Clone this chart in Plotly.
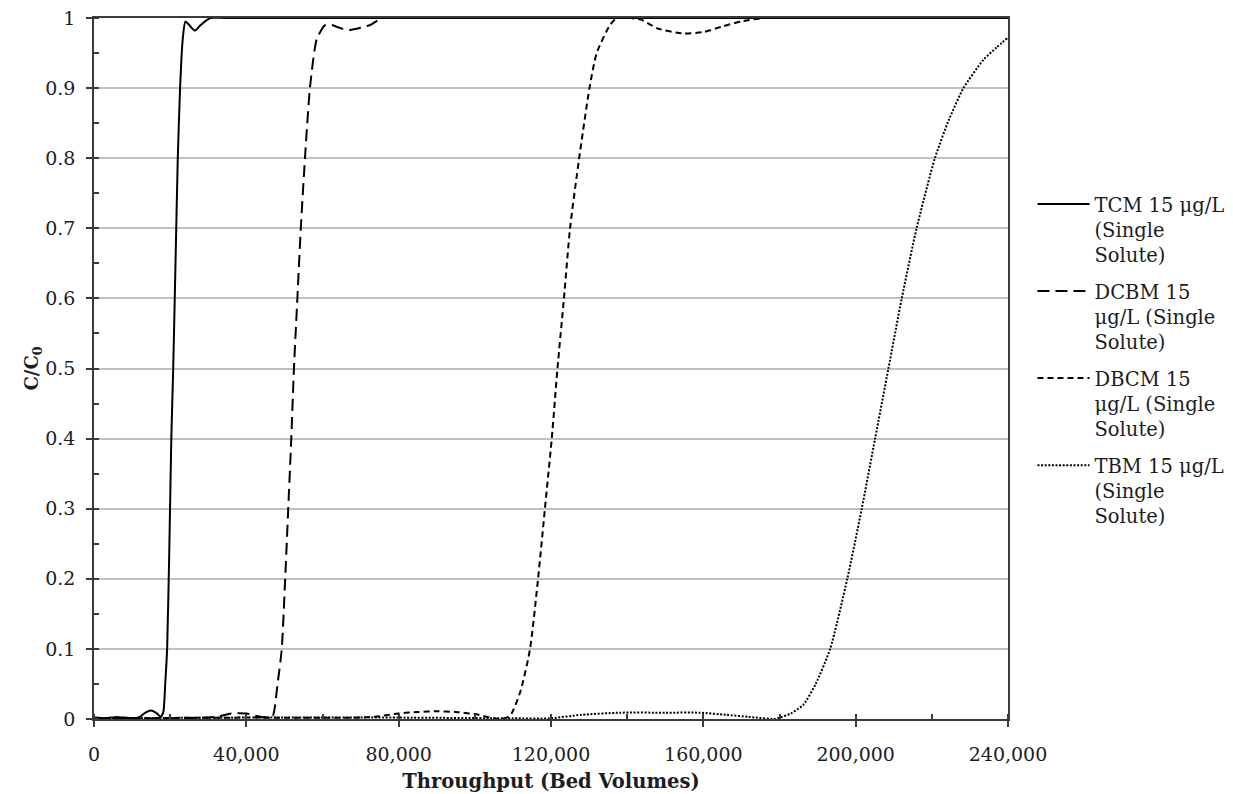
import plotly.graph_objects as go

# ---- data ----
tcm_x = [0, 3000, 6000, 8000, 10000, 12000, 13500, 15000, 16500, 17500, 18200, 18700, 19200, 19800,
         20300, 20800, 21400, 22000, 22600, 23300, 24000, 25000, 26500, 28000, 30500, 35000, 240000]
tcm_y = [0.002, 0.001, 0.003, 0.002, 0.001, 0.003, 0.009, 0.012, 0.008, 0.003, 0.01, 0.05, 0.1, 0.25,
         0.4, 0.5, 0.65, 0.8, 0.9, 0.97, 0.995, 0.99, 0.982, 0.99, 1.0, 1.0, 1.0]

dcbm_x = [0, 20000, 30000, 33000, 36000, 40000, 43000, 46000, 47000, 48200, 49300, 50200, 51000, 51800,
          52500, 53400, 54300, 55400, 56700, 58500, 60700, 62400, 65000, 67200, 70000, 72500, 76000, 240000]
dcbm_y = [0.0, 0.001, 0.002, 0.004, 0.008, 0.008, 0.004, 0.002, 0.005, 0.05, 0.1, 0.2, 0.3, 0.4,
          0.5, 0.6, 0.7, 0.8, 0.9, 0.97, 0.99, 0.99, 0.985, 0.983, 0.986, 0.99, 1.0, 1.0]

dbcm_x = [0, 40000, 70000, 75000, 80000, 85000, 90000, 95000, 100000, 104000, 107000, 109300, 112000,
          114500, 116600, 118400, 120200, 121700, 123400, 125000, 127400, 130100, 132000, 135500, 137300,
          143400, 148000, 154700, 160000, 165000, 170000, 176000, 240000]
dbcm_y = [0.001, 0.002, 0.002, 0.004, 0.008, 0.01, 0.011, 0.01, 0.007, 0.002, 0.0, 0.005, 0.04,
          0.1, 0.2, 0.3, 0.4, 0.5, 0.6, 0.7, 0.8, 0.9, 0.95, 0.99, 1.0,
          0.998, 0.985, 0.978, 0.98, 0.988, 0.995, 1.0, 1.0]

tbm_x = [0, 40000, 80000, 110000, 119700, 128000, 138000, 150000, 159000, 166000, 172000, 179000,
         180100, 183000, 186200, 189500, 193300, 197800, 201600, 205100, 208600, 212100, 216000,
         220800, 224500, 228300, 233500, 237000, 240000]
tbm_y = [0.001, 0.002, 0.002, 0.001, 0.001, 0.006, 0.009, 0.009, 0.009, 0.006, 0.003, 0.0,
         0.002, 0.008, 0.02, 0.05, 0.1, 0.2, 0.3, 0.4, 0.5, 0.6, 0.7,
         0.8, 0.855, 0.9, 0.94, 0.958, 0.972]

names = ["TCM 15 μg/L<br>(Single<br>Solute)",
         "DCBM 15<br>μg/L (Single<br>Solute)",
         "DBCM 15<br>μg/L (Single<br>Solute)",
         "TBM 15 μg/L<br>(Single<br>Solute)"]

x_ticks = [0, 40000, 80000, 120000, 160000, 200000, 240000]
x_labels = ["0", "40,000", "80,000", "120,000", "160,000", "200,000", "240,000"]
y_ticks = [0, 0.1, 0.2, 0.3, 0.4, 0.5, 0.6, 0.7, 0.8, 0.9, 1]
y_labels = ["0", "0.1", "0.2", "0.3", "0.4", "0.5", "0.6", "0.7", "0.8", "0.9", "1"]

FONT = "DejaVu Serif"
TXT = "#1c1c24"

fig = go.Figure()
series = [(tcm_x, tcm_y, "solid", 2.0),
          (dcbm_x, dcbm_y, "12px,6px", 2.0),
          (dbcm_x, dbcm_y, "6px,4px", 2.0),
          (tbm_x, tbm_y, "2px,1.6px", 2.0)]
for i, ((xs, ys, dash, w), nm) in enumerate(zip(series, names)):
    fig.add_trace(go.Scatter(x=xs, y=ys, mode="lines", name=nm, legendgroup=f"g{i}",
                             line=dict(color="black", width=w, dash=dash, shape="spline", smoothing=0.6)))

fig.update_layout(
    width=1233, height=794,
    margin=dict(l=86, r=233, t=10, b=83, autoexpand=False),
    paper_bgcolor="white", plot_bgcolor="white",
    font=dict(family=FONT, color=TXT, size=19),
    showlegend=True,
    legend=dict(x=1.0268, y=0.762, xanchor="left", yanchor="top", font=dict(size=19.5, family=FONT, color=TXT),
                traceorder="grouped", tracegroupgap=8, valign="top", itemwidth=52, bgcolor="rgba(0,0,0,0)"),
)
fig.update_xaxes(range=[0, 240000], tickvals=x_ticks, ticktext=x_labels, automargin=False,
                 showgrid=False, zeroline=False, ticklabeloverflow="allow",
                 showline=True, linecolor="#3a3a3a", linewidth=1.5, mirror=True,
                 ticks="outside", ticklen=6, tickcolor="#3a3a3a", tickwidth=1.5, ticklabelstandoff=11,
                 minor=dict(dtick=20000, ticks="inside", ticklen=5, tickcolor="#3a3a3a", tickwidth=1.5, showgrid=False),
                 tickfont=dict(size=19, family=FONT, color=TXT),
                 title=dict(text="<b>Throughput (Bed Volumes)</b>", font=dict(size=19.5, family=FONT, color=TXT), standoff=11))
fig.update_yaxes(range=[0, 1], tickvals=y_ticks, ticktext=y_labels, automargin=False,
                 showgrid=True, gridcolor="#c0c0c0", gridwidth=1.5, zeroline=False, ticklabeloverflow="allow",
                 showline=True, linecolor="#3a3a3a", linewidth=1.5, mirror=True,
                 ticks="outside", ticklen=6, tickcolor="#3a3a3a", tickwidth=1.5, ticklabelstandoff=7,
                 minor=dict(dtick=0.05, ticks="inside", ticklen=5, tickcolor="#3a3a3a", tickwidth=1.5, showgrid=False),
                 tickfont=dict(size=19, family=FONT, color=TXT),
                 title=dict(text="<b>C/C<sub>0</sub></b>", font=dict(size=18, family=FONT, color=TXT), standoff=2))

fig.write_html("out.html")
